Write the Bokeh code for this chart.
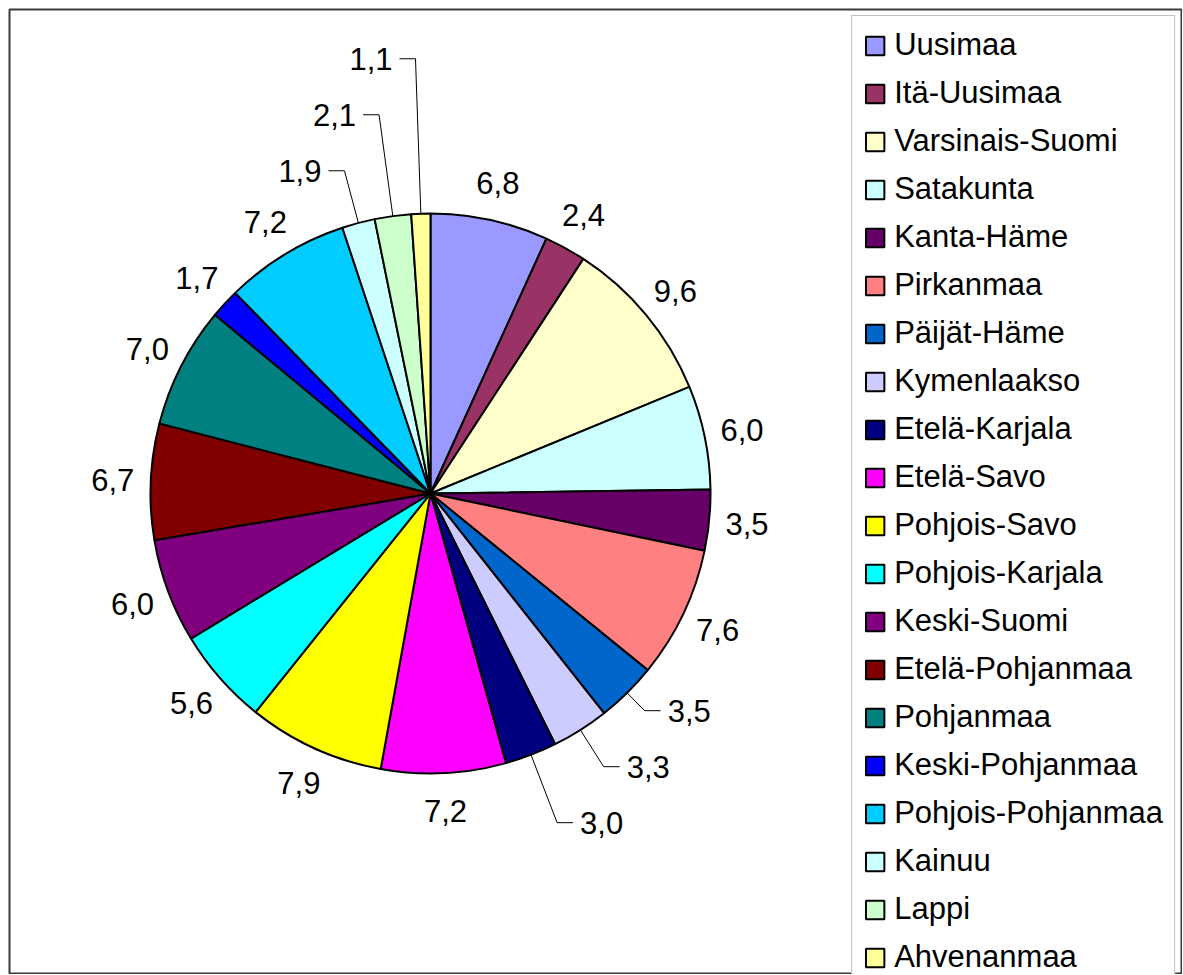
import math
from bokeh.plotting import figure
from bokeh.models import ColumnDataSource, Range1d, Legend, LegendItem
from bokeh.core.properties import value
from bokeh.embed import file_html
from bokeh.resources import INLINE

# ---- data ----
regions = ["Uusimaa", "Itä-Uusimaa", "Varsinais-Suomi", "Satakunta", "Kanta-Häme",
           "Pirkanmaa", "Päijät-Häme", "Kymenlaakso", "Etelä-Karjala", "Etelä-Savo",
           "Pohjois-Savo", "Pohjois-Karjala", "Keski-Suomi", "Etelä-Pohjanmaa",
           "Pohjanmaa", "Keski-Pohjanmaa", "Pohjois-Pohjanmaa", "Kainuu", "Lappi",
           "Ahvenanmaa"]
values = [6.8, 2.4, 9.6, 6.0, 3.5, 7.6, 3.5, 3.3, 3.0, 7.2,
          7.9, 5.6, 6.0, 6.7, 7.0, 1.7, 7.2, 1.9, 2.1, 1.1]
colors = ["#9999FF", "#993366", "#FFFFCC", "#CCFFFF", "#660066",
          "#FF8080", "#0066CC", "#CCCCFF", "#000080", "#FF00FF",
          "#FFFF00", "#00FFFF", "#800080", "#800000", "#008080",
          "#0000FF", "#00CCFF", "#CCFFFF", "#CCFFCC", "#FFFF99"]

# ---- layout (pixels) ----
W, H = 1182, 974
BL, BT, BR = 9, 9, 1
FW, FH = W - BL - BR, H - BT
cx, cy = 430 - BL, FH - (493 - BT)
R = 280
LABEL_R = 318
ROW = 56
FONT = "Liberation Sans"
FSIZE = "31px"
# label groups that use leader lines: (slice indices, direction, first bend radius)
leader_groups = [([6, 7, 8], 1, 305), ([17, 18, 19], -1, 334)]

total = sum(values)
cum = 0.0
sa, ea, mids = [], [], []
for v in values:
    t0 = 2 * math.pi * cum / total
    t1 = 2 * math.pi * (cum + v) / total
    sa.append(math.pi / 2 - t1)
    ea.append(math.pi / 2 - t0)
    mids.append((t0 + t1) / 2)
    cum += v

def fmt(v):
    return f"{v:.1f}".replace(".", ",")

src = ColumnDataSource(dict(x=[cx] * len(values), y=[cy] * len(values),
                            sa=sa, ea=ea, color=colors, name=regions))

p = figure(width=W, height=H, x_range=Range1d(0, FW), y_range=Range1d(0, FH),
           x_axis_type=None, y_axis_type=None, toolbar_location=None,
           output_backend="svg", min_border_left=BL, min_border_right=BR,
           min_border_top=BT, min_border_bottom=0,
           background_fill_color="white", border_fill_color="white")
p.outline_line_color = "#3a3a3a"
p.outline_line_width = 2
p.grid.visible = False

wr = p.wedge(x="x", y="y", radius=R, start_angle="sa", end_angle="ea",
             direction="anticlock", fill_color="color", line_color="black",
             line_width=2, source=src)

leader_idx = {}
for idxs, sgn, r0 in leader_groups:
    m0 = mids[idxs[0]]
    y0 = r0 * (-math.cos(m0))
    for k, i in enumerate(idxs):
        yd = y0 + k * ROW * sgn
        m = mids[i]
        rk = yd / (-math.cos(m))
        leader_idx[i] = (rk * math.sin(m), yd)

cen = dict(x=[], y=[], t=[])
lft = dict(x=[], y=[], t=[])
rgt = dict(x=[], y=[], t=[])
lx, ly = [], []
for i, v in enumerate(values):
    m = mids[i]
    if i in leader_idx:
        bx, byd = leader_idx[i]
        side = 1 if math.sin(m) > 0 else -1
        ex, ey = cx + R * math.sin(m), cy + R * math.cos(m)
        bxp, byp = cx + bx, cy - byd
        hx = bxp + 16 * side
        lx.append([ex, bxp, hx])
        ly.append([ey, byp, byp])
        d = lft if side > 0 else rgt
        d["x"].append(hx + 7 * side)
        d["y"].append(byp)
        d["t"].append(fmt(v))
    else:
        cen["x"].append(cx + LABEL_R * math.sin(m))
        cen["y"].append(cy + LABEL_R * math.cos(m))
        cen["t"].append(fmt(v))

p.multi_line(xs=lx, ys=ly, line_color="black", line_width=1)
for d, al in ((cen, "center"), (lft, "left"), (rgt, "right")):
    p.text(x="x", y="y", text="t", source=ColumnDataSource(d), text_align=al,
           text_baseline="middle", text_font=value(FONT), text_font_size=FSIZE,
           text_color="black")

items = [LegendItem(label=regions[i], renderers=[wr], index=i) for i in range(len(regions))]
legend = Legend(items=items, location="top_right", margin=6, padding=11,
                spacing=12, glyph_width=23, glyph_height=23, label_height=35,
                label_standoff=8, label_text_font=FONT, label_text_font_size=FSIZE,
                label_text_color="black",
                border_line_color="#808080", border_line_width=1,
                background_fill_color="white", background_fill_alpha=1.0)
p.add_layout(legend)

with open("out.html", "w", encoding="utf-8") as f:
    f.write(file_html(p, INLINE))
